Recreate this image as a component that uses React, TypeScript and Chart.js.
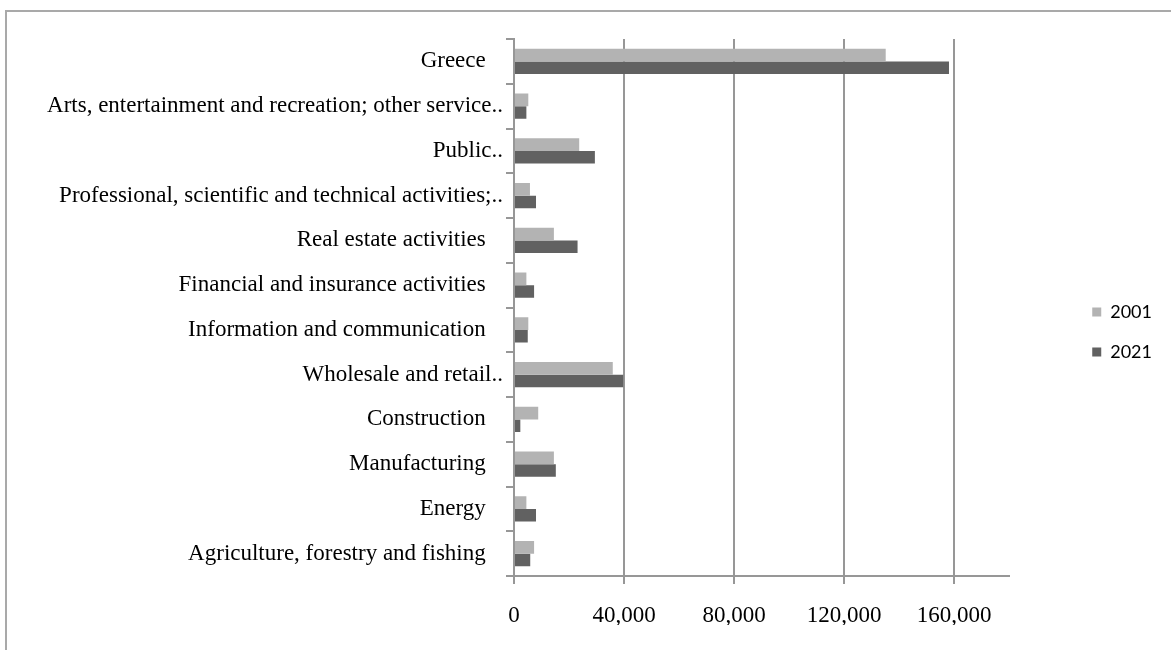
import React, { useEffect, useRef } from "react";
import { Chart, registerables } from "chart.js";

Chart.register(...registerables);

const categories: string[] = [
  "Greece",
  "Arts, entertainment and recreation; other service..",
  "Public..",
  "Professional, scientific and technical activities;..",
  "Real estate activities",
  "Financial and insurance activities",
  "Information and communication",
  "Wholesale and retail..",
  "Construction",
  "Manufacturing",
  "Energy",
  "Agriculture, forestry and fishing",
];

const values2001: number[] = [135100, 5200, 23700, 5800, 14500, 4500, 5200, 35900, 8800, 14500, 4500, 7300];
const values2021: number[] = [158100, 4500, 29400, 8000, 23100, 7300, 5000, 39700, 2300, 15200, 8000, 5900];

const seriesNames: string[] = ["2001", "2021"];
const xMin = 0;
const xMax = 180000;
const xTickValues: number[] = [0, 40000, 80000, 120000, 160000];

const AXIS_COLOR = "#979797";
const SERIF = "'Liberation Serif', 'Times New Roman', serif";

export default function App() {
  const ref = useRef<HTMLCanvasElement>(null);

  useEffect(() => {
    if (!ref.current) return;
    const chart = new Chart(ref.current, {
      type: "bar",
      data: {
        labels: categories,
        datasets: [
          {
            label: seriesNames[0],
            data: values2001,
            backgroundColor: "#b3b3b3",
            borderWidth: 0,
            categoryPercentage: 0.56,
            barPercentage: 1,
          },
          {
            label: seriesNames[1],
            data: values2021,
            backgroundColor: "#616161",
            borderWidth: 0,
            categoryPercentage: 0.56,
            barPercentage: 1,
          },
        ],
      },
      options: {
        indexAxis: "y",
        responsive: false,
        animation: false,
        layout: { padding: { top: 26, bottom: 25, left: 0, right: 9 } },
        plugins: {
          tooltip: { enabled: false },
          legend: {
            position: "right",
            labels: {
              boxWidth: 9,
              boxHeight: 9,
              padding: 22,
              color: "#000",
              font: { family: "Lato, 'Open Sans', sans-serif", size: 18 },
            },
          },
        },
        scales: {
          x: {
            type: "linear",
            min: xMin,
            max: xMax,
            bounds: "data",
            afterBuildTicks: (s: any) => {
              s.ticks = xTickValues.map((v) => ({ value: v }));
            },
            ticks: {
              color: "#000",
              padding: 18,
              font: { family: SERIF, size: 23 },
              callback: (v: any) => Number(v).toLocaleString("en-US"),
            },
            grid: { color: AXIS_COLOR, lineWidth: 2, drawTicks: true, tickLength: 8 },
            border: { color: AXIS_COLOR, width: 2 },
            afterFit: (s: any) => {
              s.height = 49;
            },
          },
          y: {
            grid: {
              drawOnChartArea: false,
              drawTicks: true,
              tickLength: 8,
              color: AXIS_COLOR,
              lineWidth: 2,
              offset: true,
            },
            border: { color: AXIS_COLOR, width: 2 },
            ticks: {
              autoSkip: false,
              color: "#000",
              padding: 3,
              font: { family: SERIF, size: 23 },
              callback: (_v: any, i: number) => {
                const l = categories[i];
                return l.endsWith("..") ? l : l + "   ";
              },
            },
            afterFit: (s: any) => {
              s.width = 507;
            },
          },
          gap: {
            type: "linear",
            axis: "y",
            position: "right",
            display: true,
            grid: { display: false },
            border: { display: false },
            ticks: { display: false },
            afterFit: (s: any) => {
              s.width = 61;
            },
          },
        },
      } as any,
    });
    return () => chart.destroy();
  }, []);

  return (
    <div
      style={{
        position: "fixed",
        left: 0,
        top: 0,
        width: 1171,
        height: 650,
        overflow: "hidden",
        background: "#fff",
      }}
    >
      <div
        style={{
          position: "absolute",
          left: 5,
          top: 10,
          width: 2000,
          height: 2000,
          borderTop: "2px solid #a9a9a9",
          borderLeft: "2px solid #a9a9a9",
        }}
      />
      <canvas
        ref={ref}
        width={1164}
        height={637}
        style={{ position: "absolute", left: 7, top: 13, width: 1164, height: 637 }}
      />
    </div>
  );
}
